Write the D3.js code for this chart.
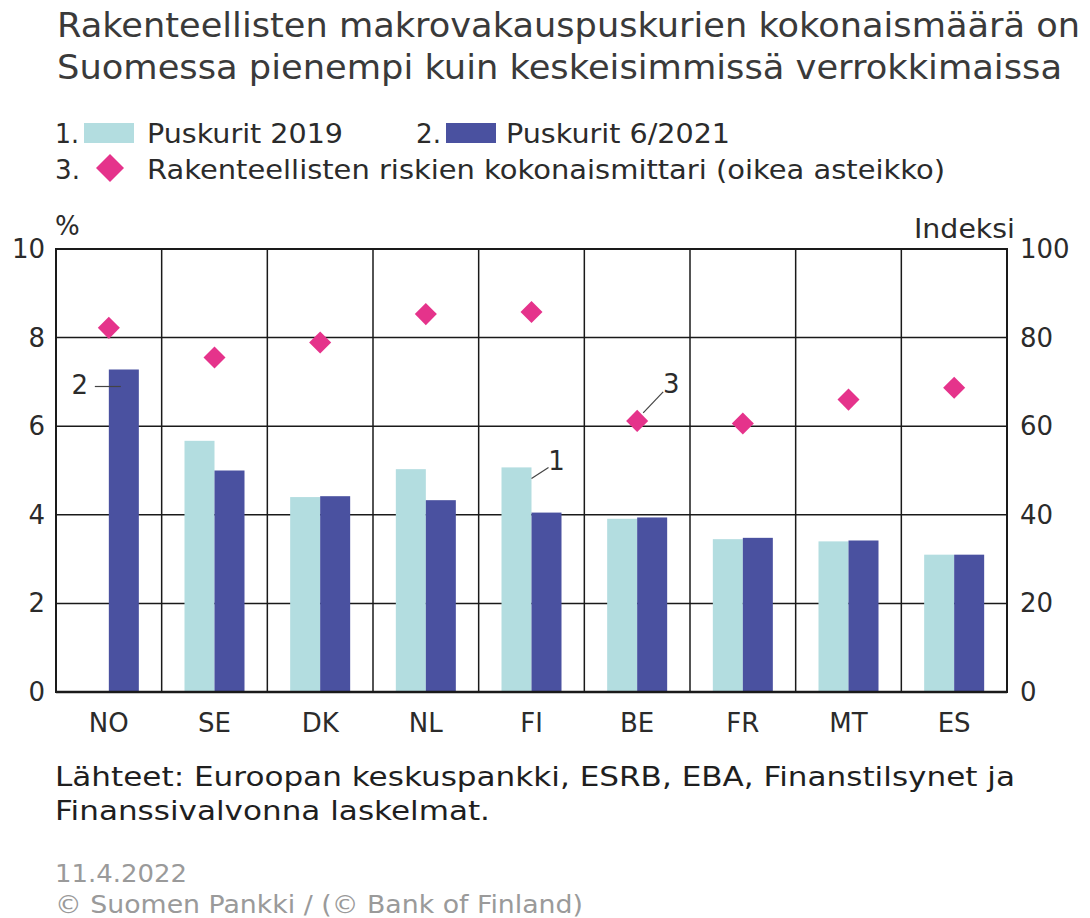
<!DOCTYPE html>
<html>
<head>
<meta charset="utf-8">
<script src="https://cdn.jsdelivr.net/npm/d3@7"></script>
<style>
  body { margin: 0; background: #fff; }
  text { font-family: "DejaVu Sans", sans-serif; }
</style>
</head>
<body>
<script>
// data
var countries = ["NO", "SE", "DK", "NL", "FI", "BE", "FR", "MT", "ES"];
var buffers2019 = [null, 5.67, 4.40, 5.03, 5.07, 3.91, 3.45, 3.40, 3.10];
var buffers2021 = [7.28, 5.00, 4.42, 4.33, 4.05, 3.94, 3.48, 3.42, 3.10];
var riskIndex = [82.2, 75.5, 78.9, 85.3, 85.8, 61.2, 60.6, 66.0, 68.7];
var leftTicks = [0, 2, 4, 6, 8, 10];
var rightTicks = [0, 20, 40, 60, 80, 100];

var W = 1090, H = 918;
var margin = { left: 56, right: 83, top: 249, bottom: 226 };
var innerW = W - margin.left - margin.right;
var innerH = H - margin.top - margin.bottom;

var svg = d3.select("body").append("svg")
    .attr("width", W)
    .attr("height", H);

var textCol = "#2b2b2b";
var lightCol = "#b3dde0";
var darkCol = "#4a51a0";
var pinkCol = "#e5338b";

// small helper: text stretched to the width it has in the original
function wideText(sel, x, y, str, len) {
    return sel.append("text")
        .attr("x", x).attr("y", y)
        .attr("textLength", len)
        .attr("lengthAdjust", "spacingAndGlyphs")
        .text(str);
}

// title
var title = svg.append("g").style("font-size", "34px").style("fill", "#3a3a3a");
wideText(title, 57, 37, "Rakenteellisten makrovakauspuskurien kokonaismäärä on", 1023);
wideText(title, 57, 79, "Suomessa pienempi kuin keskeisimmissä verrokkimaissa", 1005);

// legend
var leg = svg.append("g").style("font-size", "27px").style("fill", textCol);
wideText(leg, 55, 143, "1.", 24);
leg.append("rect").attr("x", 84).attr("y", 123).attr("width", 50).attr("height", 20).attr("fill", lightCol);
wideText(leg, 147, 143, "Puskurit 2019", 196);
wideText(leg, 416, 143, "2.", 25);
leg.append("rect").attr("x", 446).attr("y", 123).attr("width", 50).attr("height", 20).attr("fill", darkCol);
wideText(leg, 506, 143, "Puskurit 6/2021", 224);
wideText(leg, 55, 179, "3.", 25);
leg.append("path")
    .attr("d", d3.symbol().type(d3.symbolDiamond2).size(500)())
    .attr("transform", "translate(110,168)")
    .attr("fill", pinkCol);
wideText(leg, 147, 179, "Rakenteellisten riskien kokonaismittari (oikea asteikko)", 798);

var g = svg.append("g").attr("transform", "translate(" + margin.left + "," + margin.top + ")");

var x = d3.scaleBand().domain(countries).range([0, innerW]);
var yL = d3.scaleLinear().domain([0, 10]).range([innerH, 0]);
var yR = d3.scaleLinear().domain([0, 100]).range([innerH, 0]);
var bw = 30;

// grid
g.append("g").selectAll("line.h")
    .data(leftTicks.filter(t => t > 0 && t < 10))
    .enter().append("line")
    .attr("x1", 0).attr("x2", innerW)
    .attr("y1", d => yL(d)).attr("y2", d => yL(d))
    .attr("stroke", "#1a1a1a").attr("stroke-width", 1.5);

g.append("g").selectAll("line.v")
    .data(countries.slice(1))
    .enter().append("line")
    .attr("x1", d => x(d)).attr("x2", d => x(d))
    .attr("y1", 0).attr("y2", innerH)
    .attr("stroke", "#1a1a1a").attr("stroke-width", 1.5);

// bars
var rows = countries.map((c, i) => ({ c: c, a: buffers2019[i], b: buffers2021[i], r: riskIndex[i] }));

g.append("g").selectAll("rect")
    .data(rows.filter(d => d.a != null))
    .enter().append("rect")
    .attr("x", d => x(d.c) + x.bandwidth() / 2 - bw)
    .attr("y", d => yL(d.a))
    .attr("width", bw)
    .attr("height", d => yL(0) - yL(d.a))
    .attr("fill", lightCol);

g.append("g").selectAll("rect")
    .data(rows)
    .enter().append("rect")
    .attr("x", d => x(d.c) + x.bandwidth() / 2)
    .attr("y", d => yL(d.b))
    .attr("width", bw)
    .attr("height", d => yL(0) - yL(d.b))
    .attr("fill", darkCol);

// frame
g.append("rect")
    .attr("x", 0).attr("y", 0).attr("width", innerW).attr("height", innerH)
    .attr("fill", "none").attr("stroke", "#1a1a1a").attr("stroke-width", 2);
g.append("line").attr("x1", 0).attr("x2", innerW).attr("y1", innerH).attr("y2", innerH)
    .attr("stroke", "#1a1a1a").attr("stroke-width", 2.5);

// diamonds
g.append("g").selectAll("path")
    .data(rows)
    .enter().append("path")
    .attr("d", d3.symbol().type(d3.symbolDiamond2).size(310)())
    .attr("transform", d => "translate(" + (x(d.c) + x.bandwidth() / 2) + "," + yR(d.r) + ")")
    .attr("fill", pinkCol);

// axes labels
var axTxt = g.append("g").style("font-size", "26px").style("fill", textCol);
axTxt.selectAll("text.l")
    .data(leftTicks)
    .enter().append("text")
    .attr("x", -11)
    .attr("y", d => yL(d) + 9)
    .attr("text-anchor", "end")
    .text(d => d);
axTxt.selectAll("text.r")
    .data(rightTicks)
    .enter().append("text")
    .attr("x", innerW + 13)
    .attr("y", d => yR(d) + 9)
    .text(d => d);
axTxt.selectAll("text.x")
    .data(countries)
    .enter().append("text")
    .attr("x", d => x(d) + x.bandwidth() / 2)
    .attr("y", innerH + 40)
    .attr("text-anchor", "middle")
    .text(d => d);
axTxt.append("text").attr("x", -1).attr("y", -14).text("%");
wideText(axTxt, innerW - 93, -11, "Indeksi", 101);

// annotations
var ann = g.append("g").style("font-size", "26px").style("fill", textCol);
function annotate(x1, y1, x2, y2, tx, ty, label) {
    ann.append("line").attr("x1", x1).attr("y1", y1).attr("x2", x2).attr("y2", y2)
        .attr("stroke", "#444").attr("stroke-width", 1.2);
    ann.append("text").attr("x", tx).attr("y", ty).attr("text-anchor", "middle").text(label);
}
var noX = x("NO") + x.bandwidth() / 2;
var noY = yL(buffers2021[0]) + 17;
annotate(noX - 14, noY, noX + 12, noY, noX - 29, noY + 8, "2");
var fiX = x("FI") + x.bandwidth() / 2;
var fiY = yL(buffers2019[4]);
annotate(fiX, fiY + 11, fiX + 17, fiY, fiX + 25, fiY + 3, "1");
var beX = x("BE") + x.bandwidth() / 2;
var beY = yR(riskIndex[5]);
annotate(beX + 6, beY - 8, beX + 26, beY - 29, beX + 34, beY - 28, "3");

// sources
var src = svg.append("g").style("font-size", "26px").style("fill", "#1f1f1f");
wideText(src, 55, 786, "Lähteet: Euroopan keskuspankki, ESRB, EBA, Finanstilsynet ja", 960);
wideText(src, 55, 820, "Finanssivalvonna laskelmat.", 435);
var foot = svg.append("g").style("font-size", "25px").style("fill", "#9a9a9a");
wideText(foot, 55, 882, "11.4.2022", 132);
wideText(foot, 55, 913, "© Suomen Pankki / (© Bank of Finland)", 528);
</script>
</body>
</html>
